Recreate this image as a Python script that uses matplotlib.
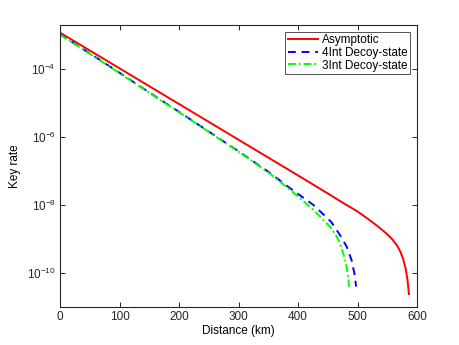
import matplotlib
matplotlib.use("Agg")
import matplotlib.pyplot as plt
import numpy as np

plt.rcParams['font.family'] = ['Liberation Sans', 'DejaVu Sans']

# distance (km) and log10(key rate)
dist_asym = [0, 50, 100, 150, 200, 250, 300, 350, 400, 450, 475, 500, 520,
             535, 548, 558, 566, 572, 577, 581, 584, 586.5]
log_asym = [-2.93, -3.455, -3.98, -4.505, -5.03, -5.555, -6.08, -6.605, -7.13,
            -7.66, -7.93, -8.19, -8.44, -8.64, -8.83, -9.0, -9.18, -9.37, -9.6,
            -9.88, -10.2, -10.62]

dist_4int = [0, 50, 100, 150, 200, 250, 300, 350, 387, 426, 456, 470, 482,
             490, 495.8, 497.5]
log_4int = [-2.98, -3.54, -4.11, -4.69, -5.26, -5.84, -6.42, -7.02, -7.51,
            -8.0, -8.5, -8.87, -9.23, -9.62, -10.1, -10.4]

dist_3int = [0, 50, 100, 150, 200, 250, 300, 350, 390, 425, 455, 465, 470,
             476, 480, 482, 484.5, 485.7]
log_3int = [-2.99, -3.55, -4.12, -4.70, -5.27, -5.85, -6.43, -7.04, -7.6,
            -8.13, -8.66, -8.93, -9.1, -9.42, -9.68, -9.85, -10.15, -10.4]

fig = plt.figure(figsize=(4.6, 3.45), dpi=100)
ax = fig.add_axes([60/460, 1-307/345, 357/460, 282/345])

ax.semilogy(dist_asym, 10**np.array(log_asym), '-', color=(1, 0, 0), lw=1.4,
            label='Asymptotic')
ax.semilogy(dist_4int, 10**np.array(log_4int), '--', color=(0, 0, 1), lw=1.4,
            dashes=(4, 3), label='4Int Decoy-state')
ax.semilogy(dist_3int, 10**np.array(log_3int), '-.', color=(0, 1, 0), lw=1.4,
            dashes=(4, 1.5, 1, 1.5), label='3Int Decoy-state')

ax.set_xlim(0, 600)
ax.set_ylim(1e-11, 10**-2.706)
ax.set_xticks(range(0, 601, 100))
ax.set_yticks([1e-10, 1e-8, 1e-6, 1e-4])
ax.yaxis.set_minor_locator(matplotlib.ticker.NullLocator())

ax.tick_params(direction='in', top=True, right=True, labelsize=8.5,
               length=3.5, width=0.7, colors='#262626', pad=3)
for s in ax.spines.values():
    s.set_color('#262626')
    s.set_linewidth(0.8)

ax.set_xlabel('Distance (km)', fontsize=8.5, labelpad=1)
ax.set_ylabel('Key rate', fontsize=8.5, labelpad=4)

leg = ax.legend(loc='upper right', fontsize=8.5, frameon=True, fancybox=False,
                edgecolor='#262626', handlelength=2.6, handletextpad=0.3,
                borderpad=0.2, labelspacing=0.05, borderaxespad=0.6)
leg.get_frame().set_linewidth(0.7)

fig.savefig('out.png', dpi=100)
